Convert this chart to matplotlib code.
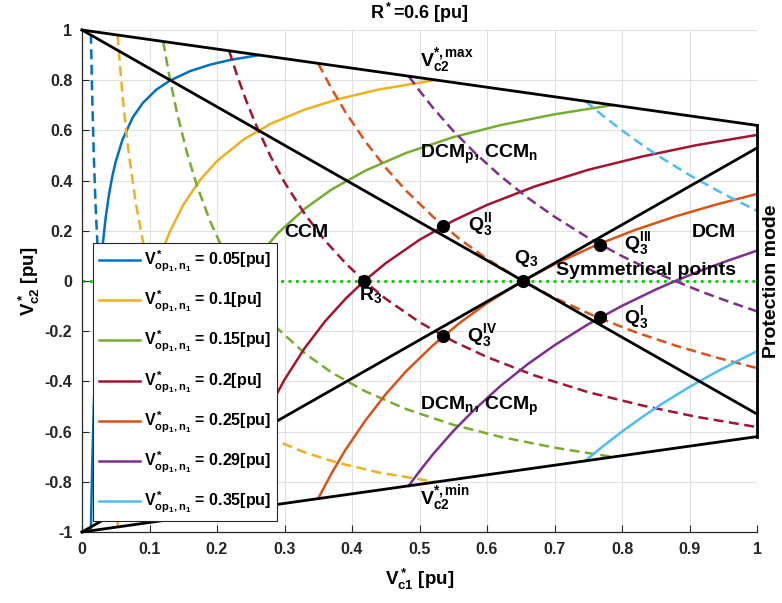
import matplotlib
matplotlib.use('Agg')
import matplotlib.pyplot as plt

plt.rcParams['font.family'] = ['Liberation Sans', 'DejaVu Sans']
plt.rcParams['font.weight'] = 'bold'
plt.rcParams['mathtext.fontset'] = 'custom'
plt.rcParams['mathtext.rm'] = 'Liberation Sans:bold'
plt.rcParams['mathtext.it'] = 'Liberation Sans:bold'
plt.rcParams['mathtext.bf'] = 'Liberation Sans:bold'
plt.rcParams['mathtext.sf'] = 'Liberation Sans:bold'
plt.rcParams['mathtext.default'] = 'rm'
plt.rcParams['axes.unicode_minus'] = False

# ---------------- data ----------------
vop_values = ['0.05', '0.1', '0.15', '0.2', '0.25', '0.29', '0.35']
colors = ['#0072BD', '#EDB120', '#77AC30', '#A2142F', '#D95319', '#7E2F8E', '#4DBEEE']

x_blue = [0.0132, 0.015, 0.0175, 0.02, 0.0225, 0.025, 0.03, 0.035, 0.04, 0.045, 0.05, 0.06, 0.075,
          0.09, 0.11, 0.13, 0.16, 0.19, 0.22, 0.2626]
y_blue = [-0.985, -0.747, -0.497, -0.31, -0.164, -0.048, 0.127, 0.251, 0.345, 0.418, 0.476, 0.563, 0.651,
          0.709, 0.762, 0.798, 0.836, 0.862, 0.881, 0.900]
y_blue_d = [0.985, 0.747, 0.497, 0.31, 0.164, 0.048, -0.127, -0.251, -0.345, -0.418, -0.476, -0.563, -0.651,
            -0.709, -0.762, -0.798, -0.836, -0.862, -0.881, -0.900]

x_yellow = [0.0528, 0.056, 0.06, 0.065, 0.07, 0.08, 0.09, 0.1, 0.115, 0.13, 0.15, 0.175, 0.2,
            0.24, 0.28, 0.33, 0.38, 0.44, 0.5244]
y_yellow = [-0.979, -0.866, -0.742, -0.608, -0.493, -0.306, -0.161, -0.045, 0.091, 0.196, 0.303,
            0.403, 0.478, 0.565, 0.627, 0.683, 0.725, 0.763, 0.801]
y_yellow_d = [0.979, 0.866, 0.742, 0.608, 0.493, 0.306, 0.161, 0.045, -0.091, -0.196, -0.303,
              -0.403, -0.478, -0.565, -0.627, -0.683, -0.725, -0.763, -0.801]

x_green = [0.1202, 0.13, 0.14, 0.155, 0.17, 0.19, 0.21, 0.235, 0.26, 0.29, 0.33, 0.37, 0.42,
           0.48, 0.55, 0.62, 0.7, 0.7864]
y_green = [-0.955, -0.808, -0.679, -0.516, -0.382, -0.237, -0.119, 0.0, 0.096, 0.190, 0.288,
           0.365, 0.440, 0.510, 0.573, 0.621, 0.664, 0.701]
y_green_d = [0.955, 0.808, 0.679, 0.516, 0.382, 0.237, 0.119, 0.0, -0.096, -0.190, -0.288,
             -0.365, -0.440, -0.510, -0.573, -0.621, -0.664, -0.701]

x_red = [0.218, 0.23, 0.245, 0.26, 0.28, 0.3, 0.33, 0.36, 0.39, 0.418, 0.45, 0.5, 0.55, 0.6,
         0.67, 0.75, 0.83, 0.91, 1.0]
y_red = [-0.917, -0.817, -0.706, -0.608, -0.493, -0.393, -0.267, -0.161, -0.072, 0.0, 0.071,
         0.164, 0.240, 0.303, 0.376, 0.443, 0.496, 0.541, 0.582]
y_red_d = [0.917, 0.817, 0.706, 0.608, 0.493, 0.393, 0.267, 0.161, 0.072, 0.0, -0.071,
           -0.164, -0.240, -0.303, -0.376, -0.443, -0.496, -0.541, -0.582]

x_orange = [0.35, 0.37, 0.39, 0.42, 0.45, 0.48, 0.52, 0.56, 0.6, 0.653, 0.7, 0.76, 0.82, 0.88,
            0.94, 1.0]
y_orange = [-0.866, -0.765, -0.674, -0.555, -0.451, -0.360, -0.256, -0.166, -0.088, 0.0, 0.067,
            0.141, 0.204, 0.258, 0.305, 0.347]
y_orange_d = [0.866, 0.765, 0.674, 0.555, 0.451, 0.360, 0.256, 0.166, 0.088, 0.0, -0.067,
              -0.141, -0.204, -0.258, -0.305, -0.347]

x_purple = [0.484, 0.5, 0.52, 0.55, 0.58, 0.62, 0.66, 0.7, 0.75, 0.8, 0.85, 0.879, 0.92, 0.96, 1.0]
y_purple = [-0.816, -0.758, -0.690, -0.598, -0.516, -0.418, -0.332, -0.256, -0.172, -0.099,
            -0.034, 0.0, 0.045, 0.084, 0.121]
y_purple_d = [0.816, 0.758, 0.690, 0.598, 0.516, 0.418, 0.332, 0.256, 0.172, 0.099,
              0.034, 0.0, -0.045, -0.084, -0.121]

x_lblue = [0.7456, 0.77, 0.8, 0.83, 0.86, 0.9, 0.94, 0.97, 1.0]
y_lblue = [-0.717, -0.662, -0.6, -0.542, -0.488, -0.422, -0.362, -0.320, -0.28]
y_lblue_d = [0.717, 0.662, 0.6, 0.542, 0.488, 0.422, 0.362, 0.320, 0.28]

curves_x = [x_blue, x_yellow, x_green, x_red, x_orange, x_purple, x_lblue]
curves_y = [y_blue, y_yellow, y_green, y_red, y_orange, y_purple, y_lblue]
curves_yd = [y_blue_d, y_yellow_d, y_green_d, y_red_d, y_orange_d, y_purple_d, y_lblue_d]

bound_x = [0.0, 1.0]
vmax_y = [1.0, 0.62]
vmin_y = [-1.0, -0.62]
diag_down_y = [1.0, -0.53]
diag_up_y = [-1.0, 0.53]
prot_x = [1.0, 1.0]
prot_y = [-0.62, 0.62]

pts_x = [0.418, 0.653, 0.535, 0.535, 0.768, 0.768]
pts_y = [0.0, 0.0, 0.219, -0.219, 0.145, -0.145]

xticks = [0, 0.1, 0.2, 0.3, 0.4, 0.5, 0.6, 0.7, 0.8, 0.9, 1]
xtick_labels = ['0', '0.1', '0.2', '0.3', '0.4', '0.5', '0.6', '0.7', '0.8', '0.9', '1']
yticks = [-1, -0.8, -0.6, -0.4, -0.2, 0, 0.2, 0.4, 0.6, 0.8, 1]
ytick_labels = ['-1', '-0.8', '-0.6', '-0.4', '-0.2', '0', '0.2', '0.4', '0.6', '0.8', '1']

# ---------------- figure ----------------
fig = plt.figure(figsize=(7.82, 6.03), dpi=100)
ax = fig.add_axes([82 / 782, 1 - 532 / 603, 675 / 782, 502 / 603])

ax.set_xlim(0, 1)
ax.set_ylim(-1, 1)
ax.set_xticks(xticks)
ax.set_xticklabels(xtick_labels)
ax.set_yticks(yticks)
ax.set_yticklabels(ytick_labels)
ax.grid(True, color='#e0e0e0', linewidth=0.8)
ax.set_axisbelow(True)
for s in ['top', 'right']:
    ax.spines[s].set_visible(False)
for s in ['left', 'bottom']:
    ax.spines[s].set_color('#262626')
    ax.spines[s].set_linewidth(0.9)
ax.tick_params(direction='in', length=5, width=0.8, colors='#262626', labelsize=11.5, pad=7)
for lab in ax.get_xticklabels() + ax.get_yticklabels():
    lab.set_fontweight('bold')

# zero line
ax.plot(bound_x, [0, 0], linestyle=':', color='#00CC00', linewidth=2, zorder=2)

handles = []
for cx, cy, cyd, col, v in zip(curves_x, curves_y, curves_yd, colors, vop_values):
    h, = ax.plot(cx, cy, color=col, linewidth=1.8, zorder=3,
                 label=r'$V^*_{op_1,n_1}$ = ' + v + '[pu]')
    ax.plot(cx, cyd, color=col, linewidth=1.8, linestyle=(0, (4, 2.2)), zorder=3)
    handles.append(h)

kw = dict(color='black', linewidth=2, zorder=4, clip_on=False)
ax.plot(bound_x, vmax_y, **kw)
ax.plot(bound_x, vmin_y, **kw)
ax.plot(bound_x, diag_down_y, **kw)
ax.plot(bound_x, diag_up_y, **kw)
ax.plot(prot_x, prot_y, **kw)

ax.plot(pts_x, pts_y, 'o', color='black', markersize=8.5, zorder=5, linestyle='none')

tk = dict(fontsize=14, fontweight='bold', color='black', zorder=6)
ax.text(0.50, 0.854, r'V$^{*,max}_{c2}$', ha='left', va='baseline', **tk)
ax.text(0.50, -0.892, r'V$^{*,min}_{c2}$', ha='left', va='baseline', **tk)
ax.text(0.50, 0.49, r'DCM$_p$, CCM$_n$', ha='left', va='baseline', **tk)
ax.text(0.50, -0.514, r'DCM$_n$, CCM$_p$', ha='left', va='baseline', **tk)
ax.text(0.30, 0.174, 'CCM', ha='left', va='baseline', **tk)
ax.text(0.903, 0.175, 'DCM', ha='left', va='baseline', **tk)
ax.text(0.702, 0.024, 'Symmetrical points', ha='left', va='baseline', **tk)
ax.text(0.64, 0.070, r'Q$_3$', ha='left', va='baseline', **tk)
ax.text(0.411, -0.076, r'R$_3$', ha='left', va='baseline', **tk)
ax.text(0.572, 0.203, r'Q$_3^{II}$', ha='left', va='baseline', **tk)
ax.text(0.803, 0.126, r'Q$_3^{III}$', ha='left', va='baseline', **tk)
ax.text(0.803, -0.169, r'Q$_3^{I}$', ha='left', va='baseline', **tk)
ax.text(0.571, -0.238, r'Q$_3^{IV}$', ha='left', va='baseline', **tk)
ax.text(1.022, 0.0, 'Protection mode', rotation=90, ha='center', va='center',
        fontsize=14, fontweight='bold', transform=ax.transData, clip_on=False)

ax.set_title(r'R$^*$=0.6 [pu]', fontsize=13, fontweight='bold', pad=8)
ax.set_xlabel(r'V$^*_{c1}$ [pu]', fontsize=13.5, fontweight='bold', labelpad=7)
ax.set_ylabel(r'V$^*_{c2}$ [pu]', fontsize=13.5, fontweight='bold', labelpad=2)

leg = ax.legend(handles=handles, loc='lower left', bbox_to_anchor=(0.0163, 0.0219),
                borderaxespad=0, fontsize=11.5, labelspacing=0.95, handlelength=2.6,
                handletextpad=0.25, borderpad=0.35, fancybox=False, framealpha=1,
                edgecolor='#262626')
leg.get_frame().set_linewidth(0.8)
leg.set_zorder(10)

fig.savefig('out.png', dpi=100)
